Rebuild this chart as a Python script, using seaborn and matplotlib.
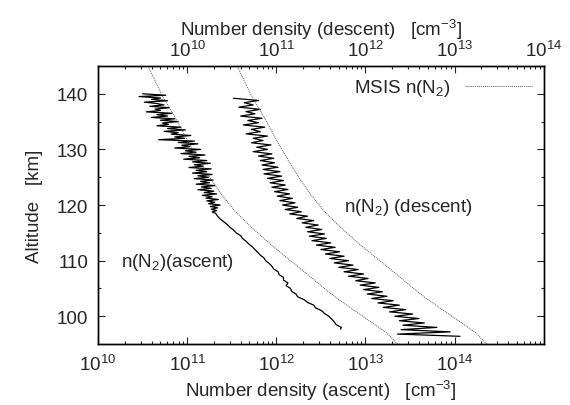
import numpy as np
import matplotlib
matplotlib.use("Agg")
import matplotlib.pyplot as plt
import seaborn as sns

# ascent profile, noisy upper part (altitude km, log10 density cm^-3, bottom axis)
asc_up_alt = [140.00, 139.75, 139.50, 139.25, 139.00, 138.75, 138.50, 138.25, 138.00, 137.75,
              137.50, 137.25, 137.00, 136.75, 136.50, 136.25, 136.00, 135.75, 135.50, 135.25,
              135.00, 134.75, 134.50, 134.25, 134.00, 133.75, 133.50, 133.25, 133.00, 132.75,
              132.50, 132.25, 132.00, 131.75, 131.50, 131.25, 131.00, 130.75, 130.50, 130.25,
              130.00, 129.75, 129.50, 129.25, 129.00, 128.75, 128.50, 128.25, 128.00, 127.75,
              127.50, 127.25, 127.00, 126.75, 126.50, 126.25, 126.00, 125.75, 125.50, 125.25,
              125.00, 124.75, 124.50, 124.25, 124.00, 123.75, 123.50, 123.25, 123.00, 122.75,
              122.50, 122.25, 122.00, 121.75, 121.50, 121.25, 121.00, 120.75, 120.50, 120.25,
              120.00, 119.75, 119.50, 119.25, 119.00, 118.75, 118.50]
asc_up_log = [10.50, 10.76, 10.46, 10.70, 10.60, 10.78, 10.52, 10.66, 10.74, 10.58,
              10.80, 10.64, 10.70, 10.54, 10.83, 10.66, 10.78, 10.60, 10.86, 10.70,
              10.90, 10.72, 10.79, 10.66, 10.93, 10.78, 10.98, 10.74, 10.90, 10.82,
              11.04, 10.86, 10.97, 10.68, 11.08, 10.90, 11.12, 10.94, 11.03, 10.86,
              11.15, 10.98, 11.10, 10.93, 11.20, 11.02, 11.14, 10.96, 11.22, 11.06,
              11.26, 11.08, 11.18, 11.02, 11.27, 11.10, 11.22, 11.06, 11.28, 11.12,
              11.24, 11.08, 11.29, 11.15, 11.25, 11.10, 11.31, 11.16, 11.27, 11.12,
              11.30, 11.19, 11.33, 11.17, 11.28, 11.21, 11.35, 11.22, 11.31, 11.24,
              11.37, 11.26, 11.34, 11.27, 11.33, 11.28, 11.32]

# ascent profile, smoother lower part
asc_lo_alt = [118.0, 117.5, 117.0, 116.5, 116.0, 115.5, 115.0, 114.5, 114.0, 113.5,
              113.0, 112.5, 112.0, 111.5, 111.0, 110.5, 110.0, 109.5, 109.0, 108.5,
              108.0, 107.5, 107.0, 106.5, 106.0, 105.5, 105.0, 104.5, 104.0, 103.5,
              103.0, 102.5, 102.0, 101.5, 101.0, 100.5, 100.0, 99.5, 99.0, 98.5,
              98.0, 97.7]
asc_lo_log = [11.34, 11.37, 11.41, 11.45, 11.48, 11.52, 11.55, 11.60, 11.62, 11.66,
              11.69, 11.73, 11.76, 11.79, 11.82, 11.86, 11.88, 11.92, 11.95, 11.97,
              12.02, 12.03, 12.08, 12.08, 12.13, 12.11, 12.16, 12.17, 12.22, 12.24,
              12.31, 12.35, 12.42, 12.44, 12.51, 12.54, 12.59, 12.62, 12.65, 12.67,
              12.73, 12.72]

# descent profile (log10 density, top axis)
desc_alt = [139.2, 138.8, 138.4, 138.0, 137.6, 137.2, 136.8, 136.4, 136.0, 135.6,
            135.2, 134.8, 134.4, 134.0, 133.6, 133.2, 132.8, 132.4, 132.0, 131.6,
            131.2, 130.8, 130.4, 130.0, 129.6, 129.2, 128.8, 128.4, 128.0, 127.6,
            127.2, 126.8, 126.4, 126.0, 125.6, 125.2, 124.8, 124.4, 124.0, 123.6,
            123.2, 122.8, 122.4, 122.0, 121.6, 121.2, 120.8, 120.4, 120.0, 119.6,
            119.2, 118.8, 118.4, 118.0, 117.6, 117.2, 116.8, 116.4, 116.0, 115.6,
            115.2, 114.8, 114.4, 114.0, 113.6, 113.2, 112.8, 112.4, 112.0, 111.6,
            111.2, 110.8, 110.4, 110.0, 109.6, 109.2, 108.8, 108.4, 108.0, 107.6,
            107.2, 106.8, 106.4, 106.0, 105.6, 105.2, 104.8, 104.4, 104.0, 103.6,
            103.2, 102.8, 102.4, 102.0, 101.6, 101.2, 100.8, 100.4, 100.0, 99.6,
            99.2, 98.8, 98.4, 98.0, 97.6, 97.2, 96.8, 96.4]
desc_log = [10.52, 10.80, 10.64, 10.74, 10.58, 10.82, 10.66, 10.76, 10.60, 10.84,
            10.68, 10.80, 10.63, 10.87, 10.72, 10.82, 10.66, 10.90, 10.74, 10.85,
            10.72, 10.94, 10.78, 10.90, 10.74, 10.95, 10.80, 10.97, 10.82, 10.98,
            10.84, 11.02, 10.85, 11.04, 10.86, 11.06, 10.90, 11.08, 10.93, 11.10,
            10.95, 11.13, 10.98, 11.15, 11.01, 11.18, 11.04, 11.21, 11.07, 11.24,
            11.10, 11.28, 11.15, 11.35, 11.23, 11.42, 11.29, 11.47, 11.33, 11.51,
            11.35, 11.54, 11.37, 11.56, 11.40, 11.61, 11.45, 11.66, 11.50, 11.71,
            11.55, 11.76, 11.60, 11.81, 11.65, 11.86, 11.70, 11.92, 11.76, 11.98,
            11.81, 12.03, 11.89, 12.11, 11.94, 12.15, 11.98, 12.19, 12.02, 12.24,
            12.07, 12.31, 12.14, 12.38, 12.20, 12.45, 12.27, 12.53, 12.33, 12.60,
            12.38, 12.66, 12.42, 12.80, 12.40, 12.95, 12.36, 13.06]

# MSIS model n(N2)
msis_alt = [95, 97, 99, 101, 103, 105, 107, 110, 113, 116, 119, 122, 126, 130, 135, 140, 145]
msis_log = [13.36, 13.24, 13.06, 12.88, 12.70, 12.54, 12.39, 12.16, 11.93, 11.72,
            11.53, 11.38, 11.21, 11.06, 10.89, 10.71, 10.56]

bottom_ticks = [1e10, 1e11, 1e12, 1e13, 1e14]
top_ticks = [1e10, 1e11, 1e12, 1e13, 1e14]
tick_labels = [r"$\mathregular{10^{10}}$", r"$\mathregular{10^{11}}$", r"$\mathregular{10^{12}}$",
               r"$\mathregular{10^{13}}$", r"$\mathregular{10^{14}}$"]

FS = 13.5

sns.set_style("ticks")
plt.rcParams["font.family"] = ["Liberation Sans", "DejaVu Sans"]
plt.rcParams["mathtext.fontset"] = "custom"
plt.rcParams["mathtext.rm"] = "Liberation Sans"
plt.rcParams["mathtext.it"] = "Liberation Sans:italic"
plt.rcParams["font.size"] = FS

fig = plt.figure(figsize=(5.7, 4.06), dpi=100)
ax = fig.add_axes([0.172, 0.150, 0.782, 0.685])
ax.set_xscale("log")
ax.set_xlim(1e10, 1e15)
ax.set_ylim(95, 145)

ax2 = ax.twiny()
ax2.set_xscale("log")
ax2.set_xlim(1e9, 1e14)

asc_alt = asc_up_alt + asc_lo_alt
asc_n = 10 ** np.array(asc_up_log + asc_lo_log)
desc_n = 10 ** np.array(desc_log)
msis_n = 10 ** np.array(msis_log)

sns.lineplot(x=asc_n, y=asc_alt, sort=False, estimator=None, color="black", lw=0.9, ax=ax)
sns.lineplot(x=msis_n, y=msis_alt, sort=False, estimator=None, color="0.35", lw=0.7,
             linestyle=(0, (1, 1)), ax=ax, label="MSIS n(N$_2$)")
sns.lineplot(x=desc_n, y=desc_alt, sort=False, estimator=None, color="black", lw=0.9, ax=ax2)
sns.lineplot(x=msis_n, y=msis_alt, sort=False, estimator=None, color="0.35", lw=0.7,
             linestyle=(0, (1, 1)), ax=ax2)

ax.set_xticks(bottom_ticks, tick_labels)
ax2.set_xticks(top_ticks, tick_labels)
ax.set_yticks([100, 110, 120, 130, 140])
ax.set_yticks([95, 105, 115, 125, 135, 145], minor=True)

ax.tick_params(axis="both", which="both", direction="in", labelsize=FS, pad=7)
ax.tick_params(axis="y", which="both", left=True, right=True)
ax.tick_params(axis="x", which="both", top=False)
ax.tick_params(which="major", length=5, width=0.8)
ax.tick_params(which="minor", length=2.5, width=0.8)
ax2.tick_params(axis="x", which="major", direction="in", length=5, width=0.8, labelsize=FS, pad=4)
ax2.tick_params(axis="x", which="minor", direction="in", length=2.5, width=0.8)
for a in (ax, ax2):
    for s in a.spines.values():
        s.set_linewidth(1.0)
        s.set_color("black")

ax.set_xlabel("Number density (ascent)   [cm$^{-3}$]", fontsize=FS, labelpad=3)
ax2.set_xlabel("Number density (descent)   [cm$^{-3}$]", fontsize=FS, labelpad=4)
ax.set_ylabel("Altitude   [km]", fontsize=FS, labelpad=10)
ax2.set_ylabel("")

ax.text(5.7e12, 119.8, "n(N$_2$) (descent)", fontsize=FS, ha="left", va="center")
ax.text(1.8e10, 109.8, "n(N$_2$)(ascent)", fontsize=FS, ha="left", va="center")

ax.legend(loc="upper right", frameon=False, markerfirst=False, handlelength=3.6,
          fontsize=FS, borderaxespad=0.2, handletextpad=0.8)
if ax2.get_legend() is not None:
    ax2.get_legend().remove()

fig.savefig("out.png", dpi=100)
